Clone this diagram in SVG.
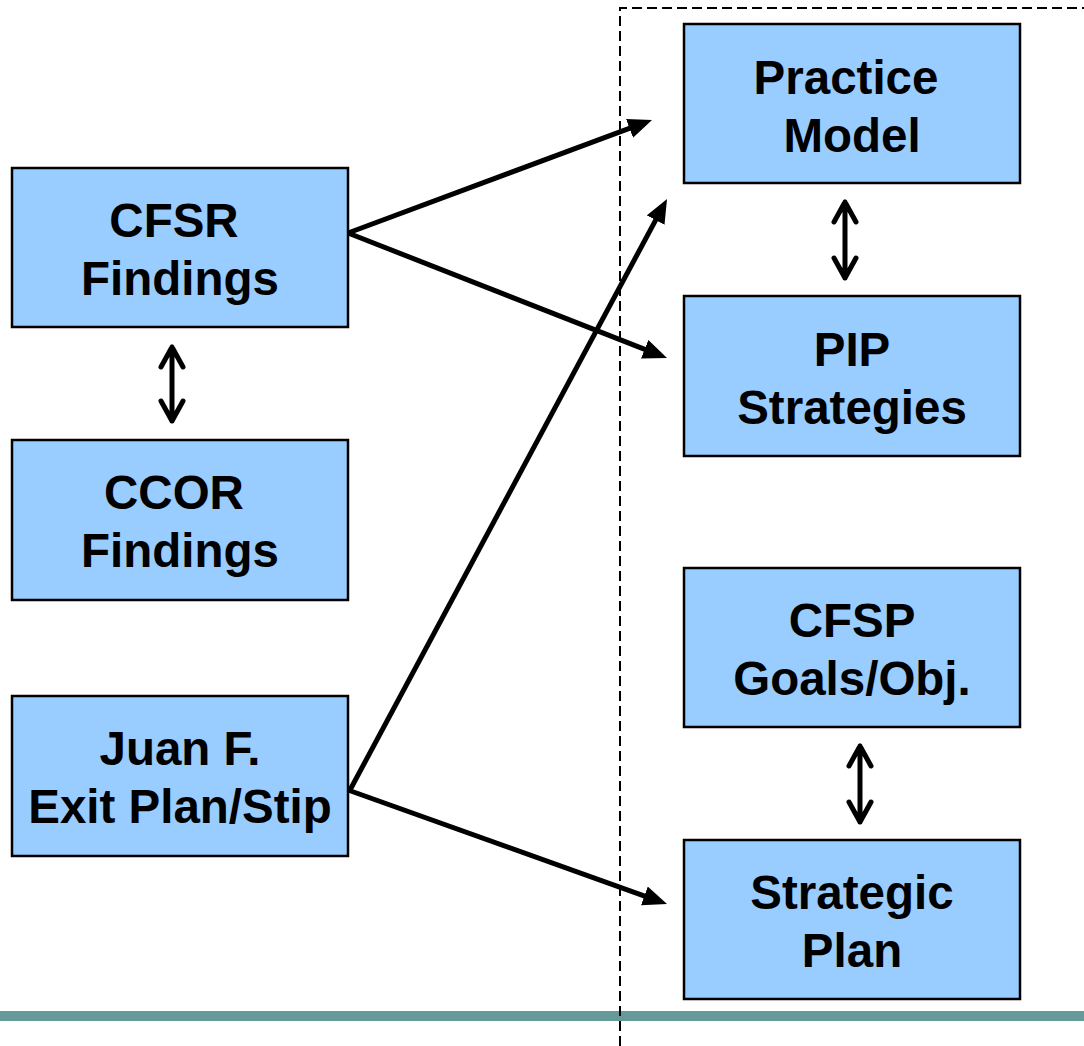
<svg xmlns="http://www.w3.org/2000/svg" width="1084" height="1046" viewBox="0 0 1084 1046">
<style>
.box{fill:#99CCFF;stroke:#000;stroke-width:2.5}
.lbl{font-family:"Liberation Sans",Arial,sans-serif;font-weight:bold;font-size:47.5px;fill:#000;text-anchor:middle}
.conn{stroke:#000;stroke-width:5;fill:none}
.dbl{stroke:#000;stroke-width:5;fill:none;stroke-linecap:round;stroke-linejoin:round}
</style>
<defs>
<marker id="ah" markerUnits="userSpaceOnUse" markerWidth="24" markerHeight="20" refX="7" refY="10" orient="auto">
<path d="M0,0 L24,10 L0,20 z" fill="#000"/>
</marker>
</defs>
<rect x="0" y="1011" width="1084" height="10" fill="#669999"/>
<path d="M620,1046 V8 H1084" fill="none" stroke="#000" stroke-width="2" stroke-dasharray="10,5"/>
<g id="cfsr"><rect class="box" x="12" y="168" width="336" height="159"/><text class="lbl" x="174" y="237">CFSR</text><text class="lbl" x="180" y="295">Findings</text></g>
<g id="ccor"><rect class="box" x="12" y="440" width="336" height="160"/><text class="lbl" x="174" y="509">CCOR</text><text class="lbl" x="180" y="567">Findings</text></g>
<g id="juan"><rect class="box" x="12" y="696" width="336" height="160"/><text class="lbl" x="180" y="765">Juan F.</text><text class="lbl" x="180" y="823">Exit Plan/Stip</text></g>
<g id="practice"><rect class="box" x="684" y="24" width="336" height="159"/><text class="lbl" x="846" y="94">Practice</text><text class="lbl" x="852" y="152">Model</text></g>
<g id="pip"><rect class="box" x="684" y="296" width="336" height="160"/><text class="lbl" x="852" y="366">PIP</text><text class="lbl" x="852" y="424">Strategies</text></g>
<g id="cfsp"><rect class="box" x="684" y="568" width="336" height="159"/><text class="lbl" x="852" y="637">CFSP</text><text class="lbl" x="852" y="695">Goals/Obj.</text></g>
<g id="strategic"><rect class="box" x="684" y="840" width="336" height="159"/><text class="lbl" x="852" y="909">Strategic</text><text class="lbl" x="852" y="967">Plan</text></g>
<g id="connectors">
<line class="conn" x1="348" y1="233" x2="636.1" y2="125.9" marker-end="url(#ah)"/>
<line class="conn" x1="348" y1="233" x2="651.2" y2="351.8" marker-end="url(#ah)"/>
<line class="conn" x1="350" y1="790" x2="659" y2="213.9" marker-end="url(#ah)"/>
<line class="conn" x1="348" y1="790" x2="651" y2="898.3" marker-end="url(#ah)"/>
<path class="dbl" d="M172,347 V421 M161,367 L172,347 L183,367 M161,401 L172,421 L183,401"/>
<path class="dbl" d="M845,202 V278 M834,222 L845,202 L856,222 M834,258 L845,278 L856,258"/>
<path class="dbl" d="M860,746 V822 M849,766 L860,746 L871,766 M849,802 L860,822 L871,802"/>
</g>
</svg>
